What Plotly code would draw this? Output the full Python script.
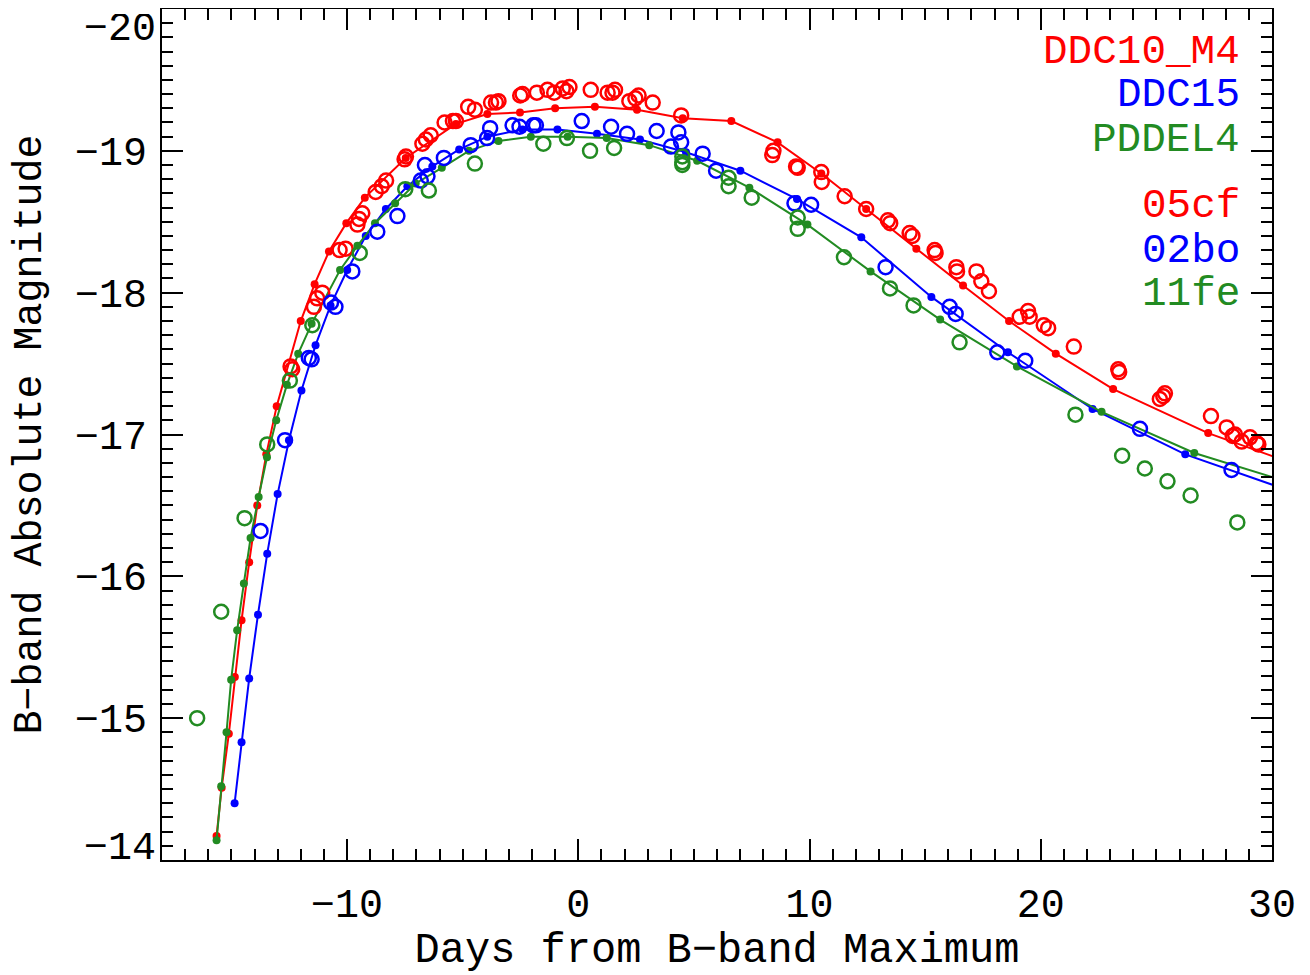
import plotly.graph_objects as go

# ---------------- data ----------------
# Models (days from B max, B absolute magnitude)
ddc10_x = [-15.64, -15.42, -15.11, -14.85, -14.56, -14.23, -13.88, -13.49, -13.04, -12.00,
           -11.40, -10.78, -10.03, -9.23, -7.46, -5.29, -3.93, -2.52, -1.00, 0.72,
           2.54, 4.52, 6.62, 8.62, 10.51, 12.45, 14.62, 16.64, 18.63, 20.65,
           23.13, 27.24, 31.0]
ddc10_y = [-14.17, -14.51, -14.89, -15.29, -15.69, -16.10, -16.50, -16.86, -17.20, -17.80,
           -18.06, -18.29, -18.49, -18.67, -18.95, -19.19, -19.26, -19.27, -19.30, -19.31,
           -19.29, -19.23, -19.21, -19.06, -18.84, -18.59, -18.31, -18.05, -17.80, -17.57,
           -17.32, -17.01, -16.79]

ddc15_x = [-14.86, -14.56, -14.23, -13.85, -13.45, -13.00, -12.51, -11.97, -11.36, -10.71,
           -9.99, -9.19, -8.32, -7.39, -6.31, -5.15, -3.93, -2.41, -0.90, 0.81,
           2.67, 4.66, 7.01, 9.46, 12.24, 15.27, 18.58, 22.24, 26.25, 31.0]
ddc15_y = [-14.40, -14.83, -15.28, -15.73, -16.16, -16.58, -16.96, -17.31, -17.63, -17.91,
           -18.16, -18.40, -18.59, -18.75, -18.89, -19.01, -19.10, -19.15, -19.15, -19.12,
           -19.08, -18.99, -18.86, -18.66, -18.39, -17.97, -17.58, -17.18, -16.86, -16.59]

pddel4_x = [-15.64, -15.44, -15.21, -15.01, -14.75, -14.46, -14.17, -13.82, -13.46, -13.06,
            -12.60, -12.11, -11.53, -10.30, -9.55, -8.79, -7.92, -7.03, -5.90, -4.73,
            -3.45, -2.05, -0.46, 1.23, 3.07, 5.14, 7.40, 9.91, 12.64, 15.65,
            18.97, 22.63, 26.64, 31.0]
pddel4_y = [-14.14, -14.52, -14.90, -15.27, -15.62, -15.95, -16.27, -16.56, -16.84, -17.10,
            -17.35, -17.57, -17.78, -18.16, -18.33, -18.49, -18.63, -18.77, -18.88, -19.00,
            -19.07, -19.10, -19.10, -19.09, -19.04, -18.93, -18.74, -18.48, -18.15, -17.81,
            -17.48, -17.16, -16.87, -16.65]

# Observations
sn05cf_x = [-12.44, -12.37, -11.43, -11.29, -11.07, -10.32, -10.06, -9.55, -9.48, -9.34,
            -8.76, -8.50, -8.31, -7.51, -7.45, -6.74, -6.59, -6.38, -5.78, -5.42,
            -5.29, -4.76, -4.47, -3.77, -3.56, -3.45, -2.51, -2.41, -1.79, -1.33,
            -1.04, -0.67, -0.51, -0.38, 0.54, 1.27, 1.48, 1.59, 2.21, 2.47,
            2.61, 3.22, 4.45, 8.39, 8.44, 9.42, 9.49, 10.51, 10.53, 11.52,
            12.45, 13.39, 13.49, 14.33, 14.45, 15.41, 15.45, 16.35, 16.38, 17.22,
            17.43, 17.76, 19.09, 19.45, 19.52, 20.13, 20.32, 21.43, 23.35, 23.39,
            25.15, 25.30, 25.37, 27.36, 28.04, 28.30, 28.40, 28.69, 29.05, 29.34,
            29.41]
sn05cf_y = [-17.48, -17.46, -17.90, -17.96, -18.00, -18.30, -18.31, -18.48, -18.52, -18.56,
            -18.71, -18.75, -18.79, -18.94, -18.96, -19.05, -19.08, -19.11, -19.20, -19.21,
            -19.21, -19.31, -19.29, -19.34, -19.34, -19.35, -19.39, -19.40, -19.41, -19.43,
            -19.41, -19.44, -19.42, -19.45, -19.43, -19.41, -19.41, -19.43, -19.35, -19.37,
            -19.39, -19.34, -19.25, -18.97, -19.00, -18.89, -18.88, -18.85, -18.78, -18.68,
            -18.59, -18.51, -18.49, -18.42, -18.40, -18.30, -18.28, -18.18, -18.15, -18.15,
            -18.08, -18.01, -17.83, -17.87, -17.83, -17.77, -17.75, -17.62, -17.46, -17.44,
            -17.25, -17.27, -17.29, -17.13, -17.05, -16.99, -17.00, -16.95, -16.98, -16.94,
            -16.93]

sn02bo_x = [-13.74, -12.68, -11.65, -11.53, -10.69, -10.50, -9.77, -8.69, -7.82, -6.81,
            -6.63, -6.52, -5.81, -4.65, -3.94, -3.81, -2.84, -2.54, -1.94, -1.83,
            0.15, 1.42, 2.11, 3.39, 4.01, 4.33, 4.45, 5.38, 5.96, 9.35,
            10.07, 13.29, 16.06, 16.32, 18.12, 19.33, 24.29, 28.25]
sn02bo_y = [-16.32, -16.96, -17.54, -17.53, -17.93, -17.90, -18.15, -18.43, -18.54, -18.79,
            -18.90, -18.82, -18.95, -19.04, -19.09, -19.16, -19.18, -19.17, -19.18, -19.18,
            -19.21, -19.17, -19.12, -19.14, -19.03, -19.13, -19.06, -18.98, -18.86, -18.63,
            -18.62, -18.18, -17.90, -17.85, -17.58, -17.52, -17.04, -16.75]

sn11fe_x = [-16.48, -15.44, -14.43, -13.45, -12.47, -11.50, -9.45, -7.48, -6.46, -4.47,
            -1.51, -0.49, 0.51, 1.55, 4.50, 4.50, 4.50, 6.50, 6.50, 7.50,
            9.49, 9.49, 11.49, 13.48, 14.50, 16.49, 21.50, 23.52, 24.50, 25.48,
            26.48, 28.50]
sn11fe_y = [-15.00, -15.75, -16.41, -16.93, -17.38, -17.77, -18.28, -18.73, -18.72, -18.91,
            -19.05, -19.09, -19.00, -19.02, -18.96, -18.92, -18.90, -18.81, -18.75, -18.67,
            -18.53, -18.45, -18.25, -18.03, -17.91, -17.65, -17.14, -16.85, -16.76, -16.67,
            -16.57, -16.38]

model_names = ["DDC10_M4", "DDC15", "PDDEL4"]
obs_names = ["05cf", "02bo", "11fe"]

x_ticks = [-10, 0, 10, 20, 30]
y_ticks = [-20, -19, -18, -17, -16, -15, -14]
# end labels of the y axis are drawn just inside the frame (as in the original)
y_end_labels = {-20: -19.86, -14: -14.085}

RED = "#ff0000"
BLUE = "#0000ff"
GREEN = "#228b22"
FONT = "Liberation Mono"


def fmt(v):
    return ("\u2212" + str(abs(v))) if v < 0 else str(v)


fig = go.Figure()

models = [(ddc10_x, ddc10_y, RED), (ddc15_x, ddc15_y, BLUE), (pddel4_x, pddel4_y, GREEN)]
for (mx, my, c), name in zip(models, model_names):
    fig.add_trace(go.Scatter(x=mx, y=my, mode="lines+markers", name=name,
                             line=dict(color=c, width=2),
                             marker=dict(color=c, size=8, symbol="circle")))

obs = [(sn05cf_x, sn05cf_y, RED), (sn02bo_x, sn02bo_y, BLUE), (sn11fe_x, sn11fe_y, GREEN)]
for (ox, oy, c), name in zip(obs, obs_names):
    fig.add_trace(go.Scatter(x=ox, y=oy, mode="markers", name=name,
                             marker=dict(symbol="circle-open", size=14, color=c,
                                         line=dict(color=c, width=2.5))))

# text labels on the right
label_y = [0.9496, 0.899, 0.8464, 0.768, 0.716, 0.665]
label_txt = model_names + obs_names
label_col = [RED, BLUE, GREEN, RED, BLUE, GREEN]
for t, yy, c in zip(label_txt, label_y, label_col):
    fig.add_annotation(x=0.973, y=yy, xref="paper", yref="paper", text=t,
                       showarrow=False, xanchor="right", yanchor="middle",
                       font=dict(family=FONT, size=41, color=c))

# y end labels
for v, ypos in y_end_labels.items():
    fig.add_annotation(x=0, y=ypos, xref="paper", yref="y", text=fmt(v),
                       showarrow=False, xanchor="right", yanchor="middle", xshift=-4,
                       height=30, valign="middle",
                       font=dict(family=FONT, size=40, color="black"))

axis_common = dict(showgrid=False, zeroline=False, showline=True, linecolor="black",
                   linewidth=2, mirror="allticks", ticks="inside", ticklen=21,
                   tickwidth=2, tickcolor="black", automargin=False,
                   tickfont=dict(family=FONT, size=40, color="black"))

fig.update_xaxes(range=[-18, 30], tickmode="array", tickvals=x_ticks,
                 ticktext=[fmt(v) for v in x_ticks], ticklabeloverflow="allow",
                 minor=dict(dtick=1, tick0=0, ticklen=11, tickwidth=2, tickcolor="black",
                            ticks="inside"),
                 ticklabelstandoff=7,
                 title=dict(text="Days from B\u2212band Maximum",
                            font=dict(family=FONT, size=42, color="black"), standoff=15),
                 **axis_common)
fig.update_yaxes(range=[-14, -20], tickmode="array", tickvals=y_ticks,
                 ticktext=["" if v in y_end_labels else fmt(v) for v in y_ticks],
                 minor=dict(dtick=0.1, tick0=0, ticklen=11, tickwidth=2, tickcolor="black",
                            ticks="inside"),
                 ticklabelstandoff=5,
                 title=dict(text="B\u2212band Absolute Magnitude",
                            font=dict(family=FONT, size=40, color="black"), standoff=24),
                 **axis_common)

# the page body adds an 8 px offset; the figure is sized to compensate
fig.update_layout(width=1302, height=967, showlegend=False,
                  plot_bgcolor="white", paper_bgcolor="white",
                  margin=dict(l=154, r=38, t=1, b=115))

fig.write_html("out.html")
